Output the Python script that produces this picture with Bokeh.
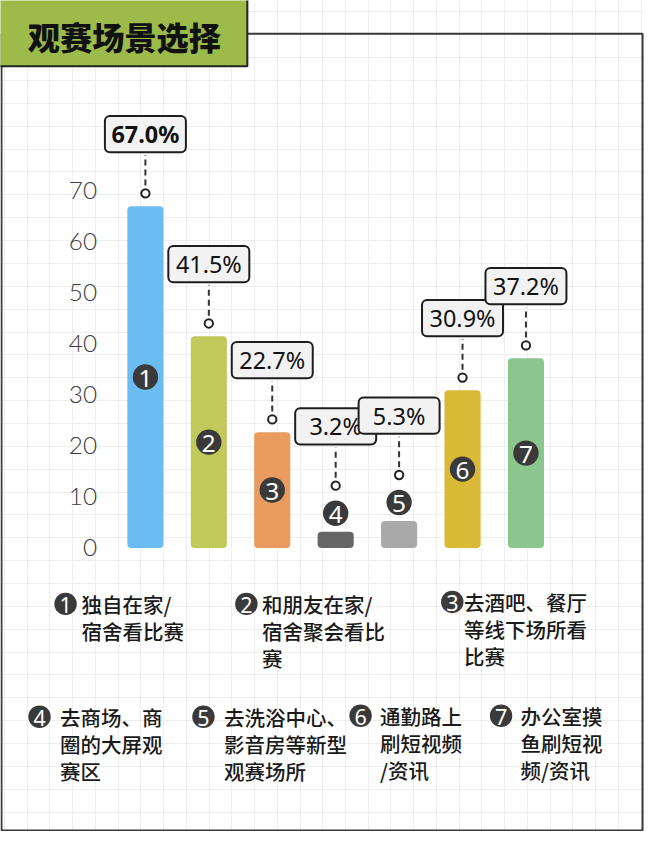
import numpy as np
from bokeh.plotting import figure
from bokeh.models import Range1d, FixedTicker
from bokeh.core.properties import value
from bokeh.embed import file_html
from bokeh.resources import INLINE

# ---------------- data ----------------
title_text = "观赛场景选择"
badge_labels = ["1", "2", "3", "4", "5", "6", "7"]
categories = [
    "独自在家/\n宿舍看比赛",
    "和朋友在家/\n宿舍聚会看比\n赛",
    "去酒吧、餐厅\n等线下场所看\n比赛",
    "去商场、商\n圈的大屏观\n赛区",
    "去洗浴中心、\n影音房等新型\n观赛场所",
    "通勤路上\n刷短视频\n/资讯",
    "办公室摸\n鱼刷短视\n频/资讯",
]
values = [67.0, 41.5, 22.7, 3.2, 5.3, 30.9, 37.2]
y_ticks = [0, 10, 20, 30, 40, 50, 60, 70]
tick_labels = ["0", "10", "20", "30", "40", "50", "60", "70"]

# ---------------- style ----------------
bar_colors = ["#6bbcf1", "#c2c95b", "#ea9b5f", "#666666", "#a9a9a9", "#d9b935", "#8ac68e"]
W, H = 644, 831
S = W / 660.0
X0, DX = 148.5, 65.0   # reference px of bar 1 centre, px per category
Y0, DY = 558.0, 5.2    # reference px of value 0, px per unit
CJK_MED = "'Noto Sans CJK SC Medium', 'Noto Sans CJK SC'"


def xd(px):
    return (px - X0) / DX


def yd(py):
    return (Y0 - py) / DY


p = figure(width=W, height=H, x_range=Range1d(xd(0), xd(660)), y_range=Range1d(yd(847), yd(0)),
           x_axis_location=None, y_axis_location=None, toolbar_location=None,
           output_backend="svg", min_border=0, title=None, outline_line_color=None,
           background_fill_color="white", border_fill_color="white")

# background grid paper
p.xgrid.ticker = FixedTicker(ticks=[xd(4.1 + 23.3 * n) for n in range(29)])
p.ygrid.ticker = FixedTicker(ticks=[yd(11.7 + 23.3 * n) for n in range(37)])
p.grid.grid_line_color = "#eeeeee"
p.grid.grid_line_width = 1

# frame
p.quad(left=[xd(1)], right=[xd(658)], top=[yd(34)], bottom=[yd(846)],
       fill_color=None, line_color="#3a3a3a", line_width=2)

# title box
p.quad(left=[xd(-3)], right=[xd(253)], top=[yd(-3)], bottom=[yd(67)],
       fill_color="#9dbb4b", line_color="#222222", line_width=2)
p.text(x=[xd(127)], y=[yd(36)], text=[title_text], text_align="center", text_baseline="middle",
       text_font=value("'Noto Sans CJK SC Black', 'Noto Sans CJK SC'"), text_font_style="bold",
       text_font_size=f"{33*S:.1f}px", text_color="#111111")

# y tick labels
p.text(x=[xd(99)] * len(y_ticks), y=y_ticks, text=tick_labels, text_align="right",
       text_baseline="middle", text_font=value("Lato Light"), text_font_size=f"{25*S:.1f}px",
       text_color="#3c3c3c")

idx = list(range(len(values)))

# bars
p.vbar(x=idx, top=values, bottom=0, width=37 / DX, fill_color=bar_colors, line_color=None,
       border_radius=4)

# number badges on bars
badge_y = [v / 2 if v >= 10 else v + 3.6 for v in values]
p.scatter(x=idx, y=badge_y, size=26 * S, fill_color="#3a3a3a", line_color=None)
p.text(x=idx, y=badge_y, text=badge_labels, text_align="center", text_baseline="middle",
       text_font=value("Noto Sans"), text_font_size=f"{25*S:.1f}px", text_color="white",
       y_offset=1)

# leader markers, dashed lines and value boxes
marker_y = [v + (2.5 if v >= 10 else 9.0) for v in values]
p.segment(x0=idx, x1=idx, y0=[m + 8 / DY for m in marker_y], y1=[m + 39 / DY for m in marker_y],
          line_color="#333333", line_width=2, line_dash="6 4")
p.scatter(x=idx, y=marker_y, size=8.5 * S, fill_color="white", line_color="#222222", line_width=2)

vmax = max(values)
for i, v in enumerate(values):
    cy = marker_y[i] + 60.5 / DY
    p.quad(left=[i - 41.5 / DX], right=[i + 41.5 / DX], top=[cy + 18.5 / DY], bottom=[cy - 18.5 / DY],
           fill_color="#f2f2f2", line_color="#1e1e1e", line_width=2, border_radius=5)
    p.text(x=[i], y=[cy], text=[f"{v:.1f}%"], text_align="center", text_baseline="middle",
           text_font=value("Noto Sans"), text_font_style="bold" if v == vmax else "normal",
           text_font_size=f"{24*S:.1f}px", text_color="#111111")

# legend
legend_badge_px = [(66.7, 615), (252, 615), (463, 613), (40, 730), (208, 730), (369, 729), (513, 729)]
legend_text_x = [83, 268, 475, 61, 229, 389, 533]
line_h = 27.5
p.scatter(x=[xd(a) for a, b in legend_badge_px], y=[yd(b) for a, b in legend_badge_px],
          size=23 * S, fill_color="#3a3a3a", line_color=None)
p.text(x=[xd(a) for a, b in legend_badge_px], y=[yd(b) for a, b in legend_badge_px], text=badge_labels,
       text_align="center", text_baseline="middle", text_font=value("Noto Sans"),
       text_font_size=f"{22*S:.1f}px", text_color="white", y_offset=1)
lx, ly, lt = [], [], []
for i, name in enumerate(categories):
    for j, line in enumerate(name.split("\n")):
        lx.append(xd(legend_text_x[i]))
        ly.append(yd(legend_badge_px[i][1] + j * line_h))
        lt.append(line)
p.text(x=lx, y=ly, text=lt, text_align="left", text_baseline="middle",
       text_font=value(CJK_MED), text_font_size=f"{21*S:.1f}px", text_color="#1a1a1a")

open("out.html", "w").write(file_html(p, INLINE))
